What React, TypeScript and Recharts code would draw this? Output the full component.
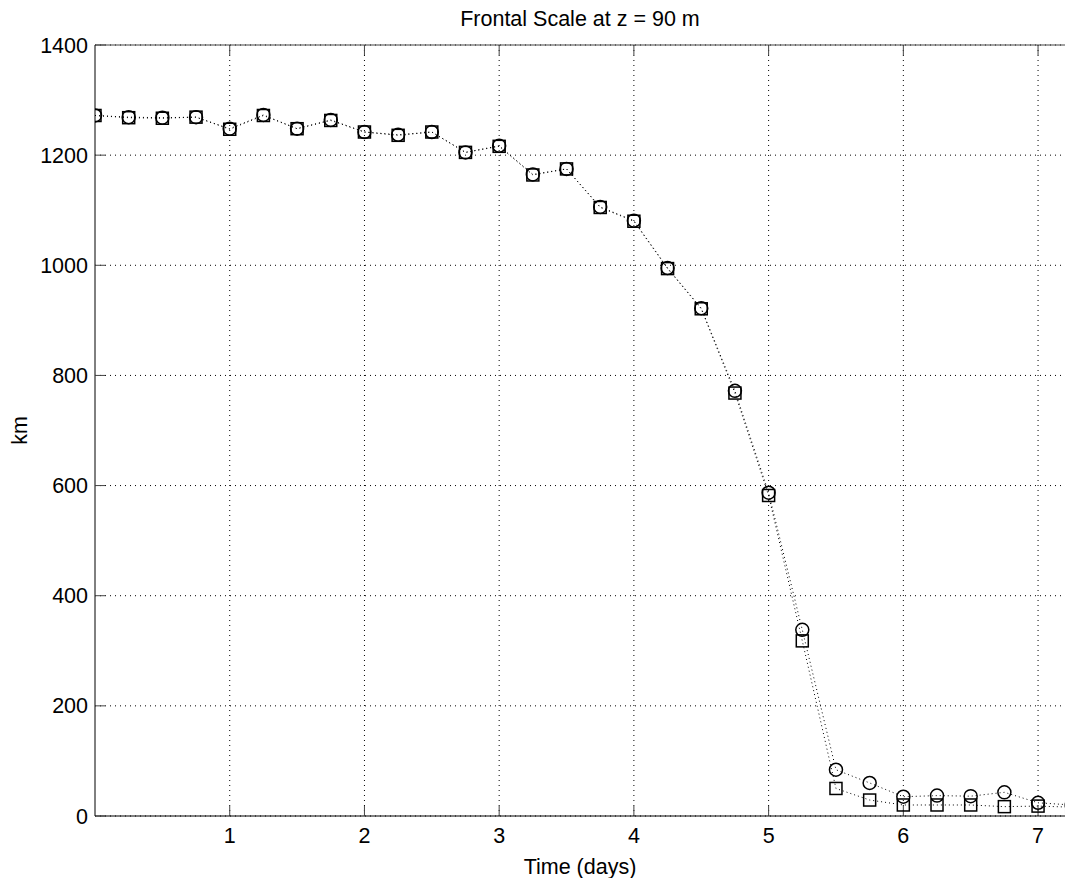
import {
  LineChart,
  Line,
  XAxis,
  YAxis,
  CartesianGrid,
} from "recharts";

// time in days, sampled every 6 hours
const times = [
  0, 0.25, 0.5, 0.75, 1, 1.25, 1.5, 1.75, 2, 2.25, 2.5, 2.75, 3, 3.25, 3.5,
  3.75, 4, 4.25, 4.5, 4.75, 5, 5.25, 5.5, 5.75, 6, 6.25, 6.5, 6.75, 7, 7.25,
];

// frontal scale (km), circle markers
const circleKm = [
  1272, 1269, 1268, 1269, 1248, 1273, 1248, 1264, 1242, 1237, 1242, 1205,
  1217, 1165, 1175, 1106, 1081, 995, 922, 772, 587, 338, 84, 60, 35, 37, 36,
  43, 24, 20,
];

// frontal scale (km), square markers
const squareKm = [
  1272, 1268, 1267, 1269, 1247, 1272, 1248, 1263, 1242, 1236, 1242, 1205,
  1216, 1164, 1175, 1105, 1080, 994, 921, 768, 582, 318, 50, 29, 20, 20, 20,
  17, 18, 16,
];

const xTicks = [1, 2, 3, 4, 5, 6, 7];
const yTicks = [0, 200, 400, 600, 800, 1000, 1200, 1400];

const data = times.map((t, i) => ({ t, circle: circleKm[i], square: squareKm[i] }));

const FONT = "'Liberation Sans', Arial, Helvetica, sans-serif";
const FS = 21.5;
const tickStyle = { fontSize: FS, fill: "#000", fontFamily: FONT };

function SquareDot(props: any) {
  const { cx, cy, index } = props;
  if (cx == null || cy == null) return <g key={index} />;
  return (
    <rect
      key={index}
      x={cx - 6}
      y={cy - 6}
      width={12}
      height={12}
      fill="none"
      stroke="#000"
      strokeWidth={1.5}
    />
  );
}

function YLabel(props: any) {
  const vb = props.viewBox || {};
  const x = 20;
  const y = vb.y + vb.height / 2;
  return (
    <text
      x={x}
      y={y}
      transform={`rotate(-90 ${x} ${y})`}
      textAnchor="middle"
      dominantBaseline="central"
      fontSize={FS}
      fontFamily={FONT}
      fill="#000"
    >
      km
    </text>
  );
}

const noTick = () => <g />;

export default function App() {
  return (
    <div
      style={{
        position: "absolute",
        left: 0,
        top: 0,
        width: 1065,
        height: 878,
        background: "#fff",
      }}
    >
      <div
        style={{
          position: "absolute",
          left: 95,
          width: 970,
          top: 6,
          textAlign: "center",
          fontSize: FS,
          fontFamily: FONT,
          color: "#000",
          lineHeight: "26px",
        }}
      >
        Frontal Scale at z = 90 m
      </div>
      <LineChart
        width={1065}
        height={878}
        data={data}
        margin={{ top: 44, right: 0, bottom: 0, left: 0 }}
      >
        <CartesianGrid
          stroke="#000"
          strokeDasharray="1 4"
          horizontalValues={yTicks}
          verticalValues={xTicks}
        />
        <XAxis
          dataKey="t"
          type="number"
          domain={[0, 7.2]}
          allowDataOverflow
          ticks={xTicks}
          height={62}
          tickSize={-10}
          tickMargin={22}
          tick={tickStyle}
          stroke="#000"
          tickLine={{ stroke: "#444" }}
          label={{
            value: "Time (days)",
            position: "insideBottom",
            offset: 4,
            fontSize: FS,
            fontFamily: FONT,
            fill: "#000",
          }}
        />
        <XAxis
          xAxisId="top"
          orientation="top"
          dataKey="t"
          type="number"
          domain={[0, 7.2]}
          allowDataOverflow
          ticks={xTicks}
          height={1}
          tickSize={-10}
          tick={noTick}
          stroke="#444"
          tickLine={{ stroke: "#444" }}
        />
        <YAxis
          type="number"
          domain={[0, 1400]}
          ticks={yTicks}
          width={95}
          tickSize={-10}
          tickMargin={17}
          tick={tickStyle}
          stroke="#000"
          tickLine={{ stroke: "#444" }}
          label={{ content: YLabel }}
        />
        <Line
          dataKey="circle"
          stroke="#000"
          strokeWidth={1}
          strokeDasharray="1 3"
          dot={{ r: 6.5, fill: "none", stroke: "#000", strokeWidth: 1.5, strokeDasharray: "" }}
          isAnimationActive={false}
        />
        <Line
          dataKey="square"
          stroke="#000"
          strokeWidth={1}
          strokeDasharray="1 3"
          dot={<SquareDot />}
          isAnimationActive={false}
        />
      </LineChart>
    </div>
  );
}
